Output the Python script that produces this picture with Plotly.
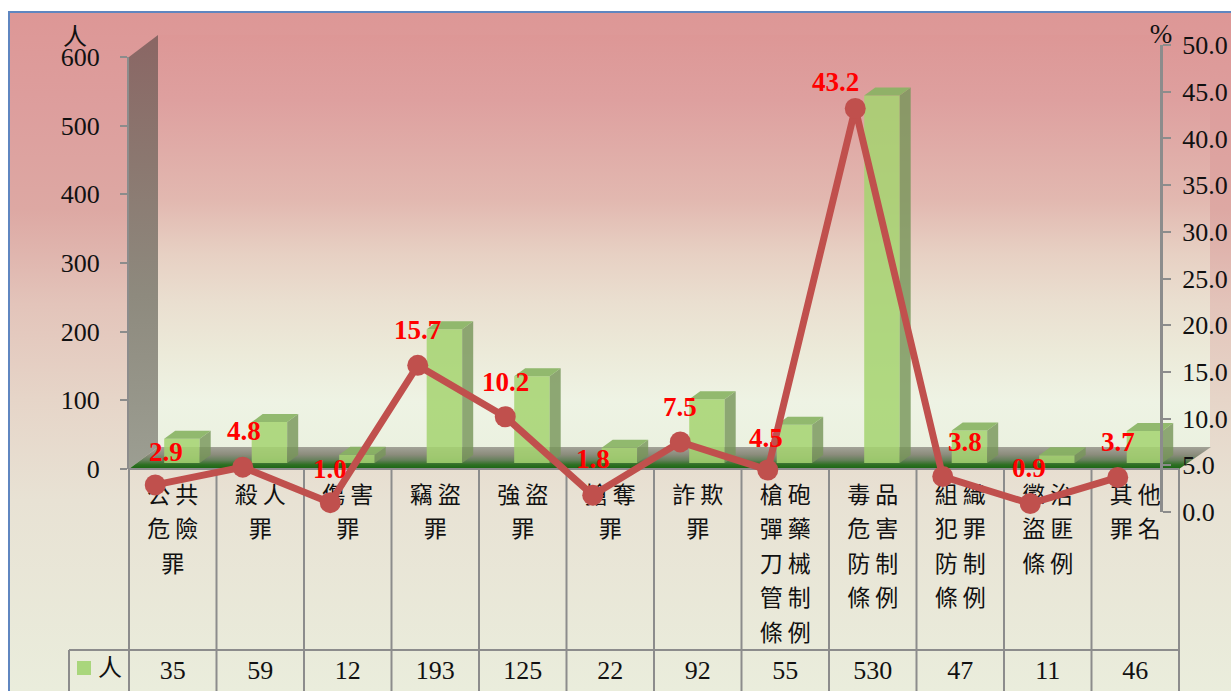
import textwrap
import plotly.graph_objects as go

categories = ["公共危險罪", "殺人罪", "傷害罪", "竊盜罪", "強盜罪", "搶奪罪", "詐欺罪",
              "槍砲彈藥刀械管制條例", "毒品危害防制條例", "組織犯罪防制條例", "懲治盜匪條例", "其他罪名"]
people = [35, 59, 12, 193, 125, 22, 92, 55, 530, 47, 11, 46]
percent = [2.9, 4.8, 1.0, 15.7, 10.2, 1.8, 7.5, 4.5, 43.2, 3.8, 0.9, 3.7]
series_name = "人"
left_ticks = [0, 100, 200, 300, 400, 500, 600]
right_ticks = [0, 5, 10, 15, 20, 25, 30, 35, 40, 45, 50]

# label nudges in pixels (styling, not data)
label_dx = [11, 1, 0, 0, 0, 0, 0, -2, -20, 22, -1, 0]
label_dy = [33, 36, 34, 35, 35, 36, 35, 32, 27, 35, 36, 35]

W, H = 1231, 691
SERIF = "Liberation Serif"
CJK = "Noto Sans CJK TC"
X0, X1 = 129, 1179
CELL = (X1 - X0) / len(categories)
GRAY = "#8c8c8c"


def dom(top, bottom):
    return [1 - bottom / H, 1 - top / H]


fig = go.Figure()


def poly(xs, ys, stops, y0, y1):
    fig.add_trace(go.Scatter(
        x=xs, y=ys, mode="lines", fill="toself", line=dict(width=0), hoverinfo="skip", showlegend=False,
        fillgradient=dict(type="vertical", start=y0, stop=y1, colorscale=stops), xaxis="x", yaxis="y"))


# outer background
poly([9, W, W, 9, 9], [12, 12, H, H, 12],
     [[0, "#dd9796"], [0.14, "#dd9e9d"], [0.29, "#dda8a3"], [0.43, "#e3c4ba"], [0.57, "#e6d5c8"],
      [0.72, "#e8e2d4"], [1, "#eaeddc"]], 12, H)
# inner wall
poly([158, 1210, 1210, 158, 158], [35, 35, 447, 447, 35],
     [[0, "#dd9796"], [0.16, "#dea09f"], [0.40, "#e2b8b0"], [0.53, "#e7d0c3"], [0.65, "#eadfd0"],
      [0.77, "#ecead9"], [0.89, "#eef3e4"], [1, "#ebf1e0"]], 35, 447)
# left wall
poly([129, 158, 158, 129, 129], [57, 35, 447, 469, 57],
     [[0, "#8a6664"], [0.3, "#8b7870"], [0.6, "#8e8a7e"], [1, "#9c9e92"]], 35, 469)
# floor
poly([129, 158, 1211, 1179, 129], [469, 447, 447, 469, 469],
     [[0, "#a3a398"], [0.35, "#8b8c7c"], [0.6, "#64805a"], [0.8, "#2f7024"], [1, "#176510"]], 447, 469)

# frame
fig.add_trace(go.Scatter(x=[9, 9, W], y=[H, 12, 12], mode="lines", line=dict(color="#5f86c0", width=2),
                         hoverinfo="skip", showlegend=False, xaxis="x", yaxis="y"))

# table grid
gx, gy = [X0, X1, None, 69, X1, None, 69, 69, None], [469, 469, None, 650, 650, None, 650, H, None]
for k in range(len(categories) + 1):
    gx += [X0 + k * CELL, X0 + k * CELL, None]
    gy += [469, H, None]
fig.add_trace(go.Scatter(x=gx, y=gy, mode="lines", line=dict(color=GRAY, width=2), hoverinfo="skip",
                         showlegend=False, xaxis="x", yaxis="y"))

# category labels (wrapped every two characters)
tx, ty, tt = [], [], []
for i, name in enumerate(categories):
    for j, part in enumerate(textwrap.wrap(name, 2)):
        tx.append(X0 + CELL * (i + 0.5))
        ty.append(497 + 34.5 * j)
        tt.append(" ".join(part))
fig.add_trace(go.Scatter(x=tx, y=ty, text=tt, mode="text", textposition="middle center",
                         textfont=dict(family=CJK, size=23, color="#111"), hoverinfo="skip",
                         showlegend=False, xaxis="x", yaxis="y"))
# table values
fig.add_trace(go.Scatter(x=[X0 + CELL * (i + 0.5) for i in range(len(people))], y=[672] * len(people),
                         text=[str(v) for v in people], mode="text", textposition="middle center",
                         textfont=dict(family=SERIF, size=26, color="#111"), hoverinfo="skip",
                         showlegend=False, xaxis="x", yaxis="y"))
# legend key in the table
fig.add_trace(go.Scatter(x=[84], y=[668], mode="markers", marker=dict(symbol="square", size=14, color="#a9d67c"),
                         hoverinfo="skip", showlegend=False, xaxis="x", yaxis="y"))
fig.add_trace(go.Scatter(x=[110, 75, 1161], y=[670, 39, 36], text=[series_name, series_name, "%"], mode="text",
                         textposition="middle center",
                         textfont=dict(family=[CJK, CJK, SERIF], size=[24, 24, 27], color="#111"),
                         hoverinfo="skip", showlegend=False, xaxis="x", yaxis="y"))

# bars
SHIFT = 9.2 / CELL
BW = 35.5 / CELL
DX = 11 / CELL
DY = 8 / (416 / 600)
xs = [i + SHIFT for i in range(len(people))]
fig.add_trace(go.Bar(x=xs, y=people, width=BW, marker=dict(color="rgba(165,212,112,0.85)", line=dict(width=0)),
                     hoverinfo="skip", showlegend=False, xaxis="x2", yaxis="y2"))
sx, sy, px, py = [], [], [], []
for c, v in zip(xs, people):
    l, r = c - BW / 2, c + BW / 2
    sx += [r, r, r + DX, r + DX, r, None]
    sy += [0, v, v + DY, DY, 0, None]
    px += [l, r, r + DX, l + DX, l, None]
    py += [v, v, v + DY, v + DY, v, None]
fig.add_trace(go.Scatter(x=sx, y=sy, mode="lines", fill="toself", fillcolor="rgba(120,150,90,0.82)",
                         line=dict(width=0), hoverinfo="skip", showlegend=False, xaxis="x2", yaxis="y2"))
fig.add_trace(go.Scatter(x=px, y=py, mode="lines", fill="toself", fillcolor="rgba(135,178,98,0.9)",
                         line=dict(width=0), hoverinfo="skip", showlegend=False, xaxis="x2", yaxis="y2"))

# keeps the left axis drawn
fig.add_trace(go.Scatter(x=[None], y=[None], mode="lines", hoverinfo="skip", showlegend=False,
                         xaxis="x2", yaxis="y3"))

# percent line
line_x = [i - 0.2 for i in range(len(percent))]
fig.add_trace(go.Scatter(x=line_x, y=percent, mode="lines+markers",
                         line=dict(color="#c0504d", width=7), marker=dict(color="#c0504d", size=21),
                         hoverinfo="skip", showlegend=False, cliponaxis=False, xaxis="x2", yaxis="y4"))

annotations = [dict(x=x, y=v, xref="x2", yref="y4", text=f"{v:.1f}", showarrow=False, xshift=dx, yshift=dy,
                    font=dict(family=SERIF, size=27, color="#ff0000", weight="bold"))
               for x, v, dx, dy in zip(line_x, percent, label_dx, label_dy)]

tickfont = dict(family=SERIF, size=26, color="#111")
fig.update_layout(
    width=W, height=H, autosize=False, margin=dict(l=0, r=0, t=0, b=0, pad=0, autoexpand=False),
    paper_bgcolor="#ffffff", plot_bgcolor="rgba(0,0,0,0)", showlegend=False, annotations=annotations,
    xaxis=dict(domain=[0, 1], range=[0, W], visible=False, fixedrange=True),
    yaxis=dict(domain=[0, 1], range=[H, 0], visible=False, fixedrange=True),
    xaxis2=dict(domain=[X0 / W, X1 / W], range=[-0.5, 11.5], visible=False, fixedrange=True, anchor="y2"),
    yaxis2=dict(domain=dom(47, 463), range=[0, 600], visible=False, fixedrange=True, anchor="x2"),
    yaxis3=dict(domain=dom(57, 469), range=[0, 600], tickvals=left_ticks, anchor="x2", side="left",
                showgrid=False, zeroline=False, showline=True, linecolor=GRAY, linewidth=2,
                ticks="outside", ticklen=7, tickwidth=2, tickcolor=GRAY, tickfont=tickfont,
                ticklabelstandoff=15, fixedrange=True),
    yaxis4=dict(domain=dom(45, 512), range=[0, 50], tickvals=right_ticks, tickformat=".1f", anchor="free",
                position=1161 / W, side="right", showgrid=False, zeroline=False, showline=True, linecolor=GRAY,
                linewidth=3, ticks="outside", ticklen=8, tickwidth=2, tickcolor=GRAY, tickfont=tickfont,
                ticklabelstandoff=6, fixedrange=True),
)
fig.write_html("out.html", config=dict(displayModeBar=False),
               post_script="document.body.style.margin='0';document.body.style.overflow='hidden';")
